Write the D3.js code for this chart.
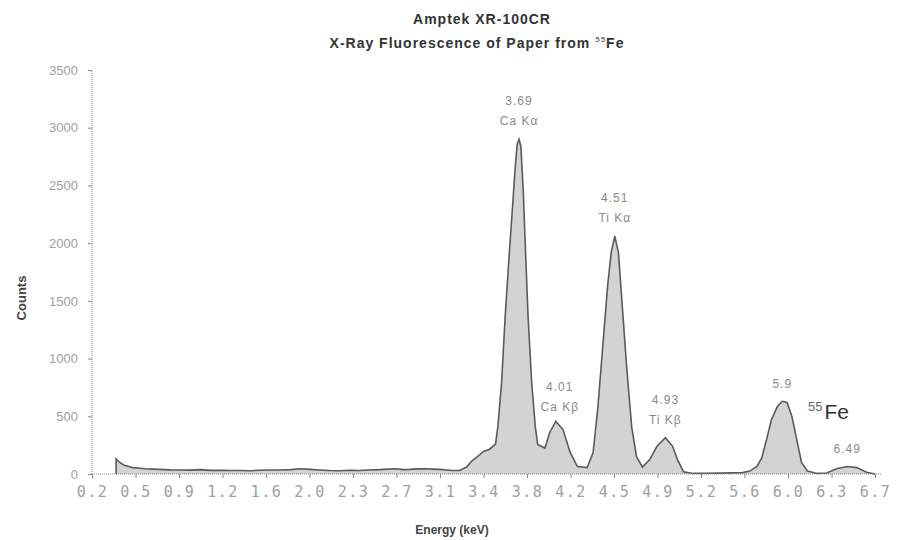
<!DOCTYPE html>
<html>
<head>
<meta charset="utf-8">
<script src="https://d3js.org/d3.v7.min.js"></script>
<style>
  body { margin: 0; background: #fff; }
  text { font-family: "Liberation Sans", Arial, sans-serif; }
</style>
</head>
<body>
<svg id="chart" width="903" height="540"></svg>
<script>
// spectrum (energy in keV, counts)
const energy = [0.40, 0.40, 0.43, 0.47, 0.54, 0.60, 0.64, 0.70, 0.76, 0.85, 0.93, 1.02, 1.10, 1.18, 1.26, 1.35, 1.43, 1.51, 1.59, 1.68,
  1.76, 1.85, 1.93, 2.01, 2.09, 2.17, 2.26, 2.34, 2.42, 2.50, 2.59, 2.66, 2.72, 2.78, 2.84, 2.90, 2.96, 3.03, 3.09, 3.14,
  3.19, 3.25, 3.31, 3.35, 3.40, 3.45, 3.50, 3.55, 3.57, 3.60, 3.63, 3.66, 3.69, 3.715, 3.73, 3.745, 3.76, 3.78, 3.80, 3.82, 3.85, 3.88,
  3.90, 3.96, 4.00, 4.05, 4.11, 4.17, 4.23, 4.31, 4.36, 4.40, 4.44, 4.48, 4.51, 4.54, 4.57, 4.60, 4.64, 4.68, 4.72, 4.77,
  4.83, 4.89, 4.96, 5.02, 5.06, 5.11, 5.19, 5.30, 5.41, 5.50, 5.60, 5.66, 5.72, 5.76, 5.80, 5.84, 5.89, 5.93, 5.97, 6.01,
  6.05, 6.09, 6.14, 6.22, 6.30, 6.38, 6.47, 6.55, 6.63, 6.70];
const counts = [0, 130, 100, 75, 55, 50, 45, 42, 40, 36, 35, 34, 38, 31, 33, 30, 30, 28, 32, 34,
  35, 38, 45, 40, 35, 30, 28, 32, 30, 35, 38, 42, 45, 38, 40, 44, 45, 42, 40, 35,
  30, 30, 60, 110, 150, 195, 215, 260, 420, 790, 1365, 1850, 2300, 2680, 2860, 2900, 2840, 2450, 1900, 1365, 790, 410,
  255, 225, 360, 455, 385, 185, 65, 55, 185, 585, 1105, 1625, 1920, 2060, 1920, 1485, 905, 410, 150, 60,
  125, 240, 315, 240, 125, 20, 5, 6, 8, 10, 12, 25, 65, 140, 300, 470, 585, 630, 620, 500,
  300, 100, 25, 5, 8, 45, 65, 55, 15, 0];

const xTickLabels = ["0.2", "0.5", "0.9", "1.2", "1.6", "2.0", "2.3", "2.7", "3.1", "3.4",
  "3.8", "4.2", "4.5", "4.9", "5.2", "5.6", "6.0", "6.3", "6.7"];
const yTicks = [0, 500, 1000, 1500, 2000, 2500, 3000, 3500];

const peakEnergy = [3.745, 4.54, 4.05, 4.96, 5.93, 6.47];
const peakCounts = [2900, 2060, 455, 315, 630, 65];
const peakValue = ["3.69", "4.51", "4.01", "4.93", "5.9", "6.49"];
const peakLine = ["Ca Kα", "Ti Kα", "Ca Kβ", "Ti Kβ", "", ""];

const svg = d3.select('#chart');
const plotLeft = 92, plotRight = 875, plotTop = 70, plotBottom = 474;

const x = d3.scaleLinear().domain([0.2, 6.7]).range([plotLeft, plotRight]);
const y = d3.scaleLinear().domain([0, 3500]).range([plotBottom, plotTop]);
const tickStep = (6.7 - 0.2) / (xTickLabels.length - 1);
const xTickVals = xTickLabels.map((d, i) => 0.2 + i * tickStep);

const pts = energy.map((e, i) => [e, counts[i]]);

// filled spectrum
svg.append('path')
  .datum(pts)
  .attr('d', d3.area().x(d => x(d[0])).y0(y(0)).y1(d => y(d[1])))
  .style('fill', '#d3d3d3');
svg.append('path')
  .datum(pts)
  .attr('d', d3.line().x(d => x(d[0])).y(d => y(d[1])))
  .style('fill', 'none')
  .style('stroke', '#5a5a5a')
  .style('stroke-width', 1.6);

// axes
const xAxis = svg.append('g')
  .attr('transform', `translate(0,${plotBottom})`)
  .call(d3.axisBottom(x).tickValues(xTickVals).tickFormat((d, i) => xTickLabels[i]).tickSize(4).tickPadding(8));
xAxis.select('.domain').attr('d', `M${plotLeft},0H${plotRight + 6}`).style('stroke', '#888').style('stroke-dasharray', '1,1');
xAxis.selectAll('.tick line').style('stroke', '#888');
xAxis.selectAll('.tick text')
  .style('font-size', '15px').style('fill', '#a0a0a0').style('letter-spacing', '1.5px')
  .style('font-family', '"DejaVu Sans Mono", monospace');

const yAxis = svg.append('g')
  .attr('transform', `translate(${plotLeft},0)`)
  .call(d3.axisLeft(y).tickValues(yTicks).tickFormat(d3.format('d')).tickSize(4).tickPadding(10));
yAxis.select('.domain').attr('d', `M0,${plotBottom}V${plotTop}`).style('stroke', '#888').style('stroke-dasharray', '1,1');
yAxis.selectAll('.tick line').style('stroke', '#888');
yAxis.selectAll('.tick text')
  .style('font-size', '13px').style('fill', '#a0a0a0');

// peak annotations
peakEnergy.forEach((e, i) => {
  const px = x(e) + (i === 2 ? 4 : 0), py = y(peakCounts[i]);
  const hasLine = peakLine[i] !== '';
  svg.append('text')
    .attr('x', px).attr('y', py - (hasLine ? 34 : 13) + (i === 2 ? 4 : 0))
    .attr('text-anchor', 'middle')
    .style('font-size', '12px').style('fill', '#8a8a8a').style('letter-spacing', '1px')
    .text(peakValue[i]);
  if (hasLine) {
    svg.append('text')
      .attr('x', px).attr('y', py - 14 + (i === 2 ? 4 : 0))
      .attr('text-anchor', 'middle')
      .style('font-size', '12px').style('fill', '#8a8a8a').style('letter-spacing', '1px')
      .text(peakLine[i]);
  }
});

// 55Fe source label
const fe = svg.append('text').attr('x', 808).attr('y', 419).style('fill', '#333');
fe.append('tspan').style('font-size', '13px').attr('dy', -8).style('fill', '#666').text('55');
fe.append('tspan').style('font-size', '21px').attr('dy', 8).attr('dx', 2).text('Fe');

// titles
svg.append('text')
  .attr('x', 482).attr('y', 24).attr('text-anchor', 'middle')
  .style('font-size', '14px').style('font-weight', 'bold').style('fill', '#333').style('letter-spacing', '1px')
  .text('Amptek XR-100CR');
const sub = svg.append('text')
  .attr('x', 477).attr('y', 48).attr('text-anchor', 'middle')
  .style('font-size', '14px').style('font-weight', 'bold').style('fill', '#333').style('letter-spacing', '1px');
sub.append('tspan').text('X-Ray Fluorescence of Paper from ');
sub.append('tspan').attr('dy', -6).style('font-size', '8px').style('fill', '#777').text('55');
sub.append('tspan').attr('dy', 6).text('Fe');

svg.append('text')
  .attr('transform', 'translate(26,298) rotate(-90)')
  .attr('text-anchor', 'middle')
  .style('font-size', '13px').style('font-weight', 'bold').style('fill', '#444')
  .text('Counts');

svg.append('text')
  .attr('x', 452).attr('y', 534).attr('text-anchor', 'middle')
  .style('font-size', '12px').style('font-weight', 'bold').style('fill', '#444')
  .text('Energy (keV)');
</script>
</body>
</html>
